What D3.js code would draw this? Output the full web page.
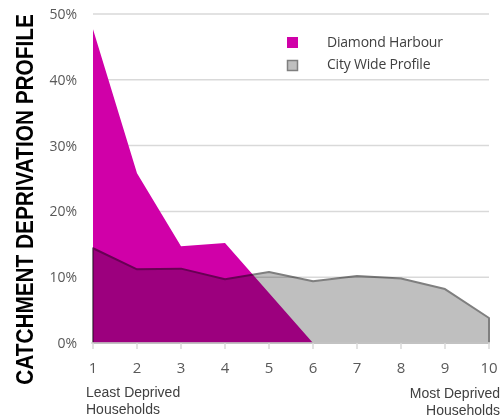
<!DOCTYPE html>
<html><head><meta charset="utf-8">
<script src="https://cdn.jsdelivr.net/npm/d3@7"></script>
<style>body{margin:0;background:#fff}svg{display:block}</style>
</head><body>
<svg id="c" width="500" height="420"></svg>
<script>
const categories = [1,2,3,4,5,6,7,8,9,10];
const diamondHarbour = [47.7,25.8,14.7,15.2,7.6,0,0,0,0,0];
const cityWide = [14.4,11.2,11.3,9.7,10.8,9.4,10.2,9.8,8.2,3.8];
const yTicks = [0,10,20,30,40,50];
const seriesNames = ["Diamond Harbour","City Wide Profile"];

const svg = d3.select("#c");
const x = d3.scaleLinear().domain([1,10]).range([93,489]);
const y = d3.scaleLinear().domain([0,50]).range([343,14]);
const font = "'Open Sans', sans-serif";

// gridlines
svg.append("g").selectAll("line").data(yTicks.filter(d=>d>0)).join("line")
  .attr("x1",93).attr("x2",489).attr("y1",d=>y(d)).attr("y2",d=>y(d))
  .attr("stroke","#d9d9d9").attr("stroke-width",1.5);

// y tick labels
svg.append("g").selectAll("text").data(yTicks).join("text")
  .attr("x",77).attr("y",d=>y(d)+5).attr("text-anchor","end")
  .attr("font-family",font).attr("font-size",14).attr("fill","#595959")
  .text(d=>d+"%");

const area = d3.area().x((d,i)=>x(categories[i])).y0(y(0)).y1(d=>y(d));

svg.append("path").datum(diamondHarbour).attr("d",area).attr("fill","#d000a8");

const g = svg.append("g").style("mix-blend-mode","multiply");
g.append("path").datum(cityWide).attr("d",area).attr("fill","#bfbfbf")
  .attr("stroke","#7f7f7f").attr("stroke-width",2).attr("stroke-linejoin","round");

// x axis
const xAxis = svg.append("g");
xAxis.append("line").attr("x1",91).attr("x2",490).attr("y1",y(0)).attr("y2",y(0))
  .attr("stroke","#d9d9d9").attr("stroke-width",1.5);
xAxis.selectAll("line.t").data(categories).join("line").attr("class","t")
  .attr("x1",d=>x(d)).attr("x2",d=>x(d)).attr("y1",y(0)).attr("y2",y(0)+6)
  .attr("stroke","#d9d9d9").attr("stroke-width",1.5);
xAxis.selectAll("text").data(categories).join("text")
  .attr("x",d=>x(d)).attr("y",373).attr("text-anchor","middle")
  .attr("font-family",font).attr("font-size",15).attr("fill","#595959")
  .text(d=>d);

// end labels
const lab = svg.append("g").attr("font-family","'Liberation Sans', Arial, sans-serif").attr("font-size",14).attr("fill","#404040");
lab.append("text").attr("x",86).attr("y",397).text("Least Deprived");
lab.append("text").attr("x",86).attr("y",414).text("Households");
lab.append("text").attr("x",500).attr("y",398).attr("text-anchor","end").text("Most Deprived");
lab.append("text").attr("x",500).attr("y",415).attr("text-anchor","end").text("Households");

// y title
svg.append("text").attr("transform","translate(33,199.5) rotate(-90) scale(0.885,1)")
  .attr("text-anchor","middle").attr("font-family","'Liberation Sans', Arial, sans-serif").attr("font-weight","bold")
  .attr("font-size",23.5).attr("fill","#000")
  .text("CATCHMENT DEPRIVATION PROFILE");

// legend
const leg = svg.append("g");
leg.append("rect").attr("x",287).attr("y",37).attr("width",11).attr("height",11).attr("fill","#d000a8");
leg.append("rect").attr("x",287.5).attr("y",60.5).attr("width",10).attr("height",10).attr("fill","#bfbfbf").attr("stroke","#7f7f7f").attr("stroke-width",1.5);
leg.selectAll("text").data(seriesNames).join("text")
  .attr("x",327).attr("y",(d,i)=>47+i*22)
  .attr("font-family",font).attr("font-size",14).attr("fill","#404040")
  .attr("letter-spacing",-0.2).text(d=>d);
</script>
</body></html>
